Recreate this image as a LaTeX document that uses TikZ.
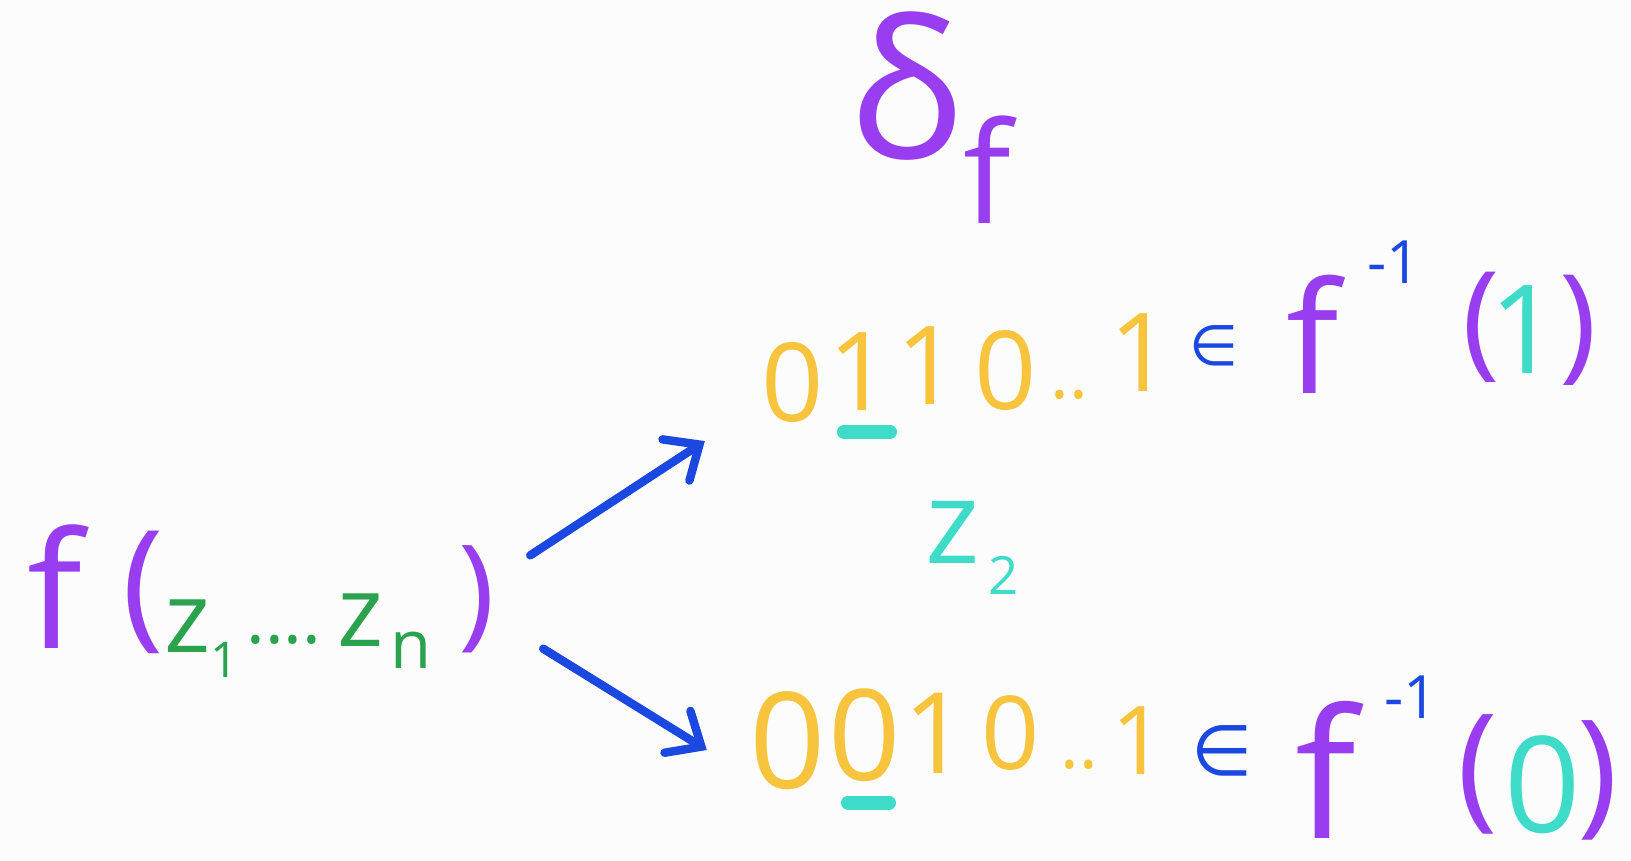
\documentclass[tikz,border=0pt]{standalone}
\usepackage{fontspec}
\setmainfont{Open Sans}
\newfontfamily\symfont{DejaVu Sans}
\usepackage{tikz}
\usetikzlibrary{arrows.meta}
\usepackage{xcolor}

\definecolor{fpurple}{RGB}{152,62,240}
\definecolor{fyellow}{RGB}{248,196,62}
\definecolor{fblue}{RGB}{28,72,226}
\definecolor{fteal}{RGB}{62,220,200}
\definecolor{fgreen}{RGB}{42,162,78}
\definecolor{paper}{RGB}{252,252,253}

\tikzset{
  glyph/.style={inner sep=0pt, outer sep=0pt},
  sz/.style={font=\fontsize{#1}{#1}\selectfont},
  purp/.style={glyph, text=fpurple},
  bits/.style={glyph, text=fyellow},
  flipd/.style={glyph, text=fteal},
  vars/.style={glyph, text=fgreen},
  memb/.style={glyph, text=fblue, font=\fontsize{#1}{#1}\selectfont\symfont},
  uline/.style={draw=fteal, line width=4pt, line cap=round},
  arr/.style={draw=fblue, line width=2.4pt, line cap=round,
    -{Straight Barb[length=8pt,width=14pt,line cap=round]}}
}

\begin{document}
\begin{tikzpicture}[x=0.01cm, y=-0.01cm]
                    % Canvas
                    \fill[paper] (0,0) rectangle (1631,860);
                    \useasboundingbox (0,0) rectangle (1631,860);

                    % Sensitivity label
                    \node[purp, sz=55] (delta) at (906,86) {δ};
                    \node[purp, sz=40] (deltaf) at (987,170) {f};

                    % Left: f(z_1 ... z_n)
                    \node[purp, sz=46] (lf) at (55,587) {f};
                    \node[purp, sz=40] (lpar) at (143,592) {(};
                    \node[vars, sz=28] (lz1) at (188,626) {z};
                    \node[vars, sz=14] (lsub1) at (225,660) {1};
                    \node[vars, sz=20] (ldots) at (284,640) {....};
                    \node[vars, sz=28] (lzn) at (361,620) {z};
                    \node[vars, sz=19] (lsubn) at (411,650) {n};
                    \node[purp, sz=35] (rpar) at (477,599) {)};

                    % Top row: 0110..1 in f^{-1}(1)
                    \node[bits, sz=31] (t0) at (793,382) {0};
                    \node[bits, sz=31] (t1) at (860,372) {1};
                    \node[bits, sz=31] (t2) at (928,366) {1};
                    \node[bits, sz=31] (t3) at (1006,370) {0};
                    \node[bits, sz=20] (tdots) at (1069,395) {..};
                    \node[bits, sz=31] (t4) at (1141,353) {1};
                    \node[memb=16] (tin) at (1214,346) {∈};
                    \node[purp, sz=44] (tf) at (1313,334) {f};
                    \node[glyph, text=fblue, sz=17] (tsup) at (1394,262) {-1};
                    \node[purp, sz=36] (tlpar) at (1481,327) {(};
                    \node[flipd, sz=35] (tone) at (1525,330) {1};
                    \node[purp, sz=36] (trpar) at (1578,330) {)};
                    \draw[uline] ([shift={(-16,21)}]t1.south) -- ([shift={(30,21)}]t1.south);

                    % Flipped coordinate
                    \node[flipd, sz=33] (z2) at (953,532) {z};
                    \node[flipd, sz=15] (z2sub) at (1004,575) {2};

                    % Bottom row: 0010..1 in f^{-1}(0)
                    \node[bits, sz=38] (b0) at (788,741) {0};
                    \node[bits, sz=36] (b1) at (865,735) {0};
                    \node[bits, sz=32] (b2) at (936,733) {1};
                    \node[bits, sz=29] (b3) at (1011,733) {0};
                    \node[bits, sz=20] (bdots) at (1079,765) {..};
                    \node[bits, sz=27] (b4) at (1139,741) {1};
                    \node[memb=20] (bin) at (1222,751) {∈};
                    \node[purp, sz=51] (bf) at (1326,770) {f};
                    \node[glyph, text=fblue, sz=17] (bsup) at (1411,697) {-1};
                    \node[purp, sz=39] (blpar) at (1478,774) {(};
                    \node[flipd, sz=38] (bzero) at (1543,785) {0};
                    \node[purp, sz=39] (brpar) at (1598,780) {)};
                    \draw[uline] ([shift={(-17,21)}]b1.south) -- ([shift={(24,21)}]b1.south);

                    % Arrows
                    \draw[arr] ([shift={(35,10)}]rpar.north east) -- ([shift={(-57,19)}]t0.south west);
                    \draw[arr] ([shift={(48,-4)}]rpar.south east) -- ([shift={(-43,9)}]b0.west);

\end{tikzpicture}
\end{document}
